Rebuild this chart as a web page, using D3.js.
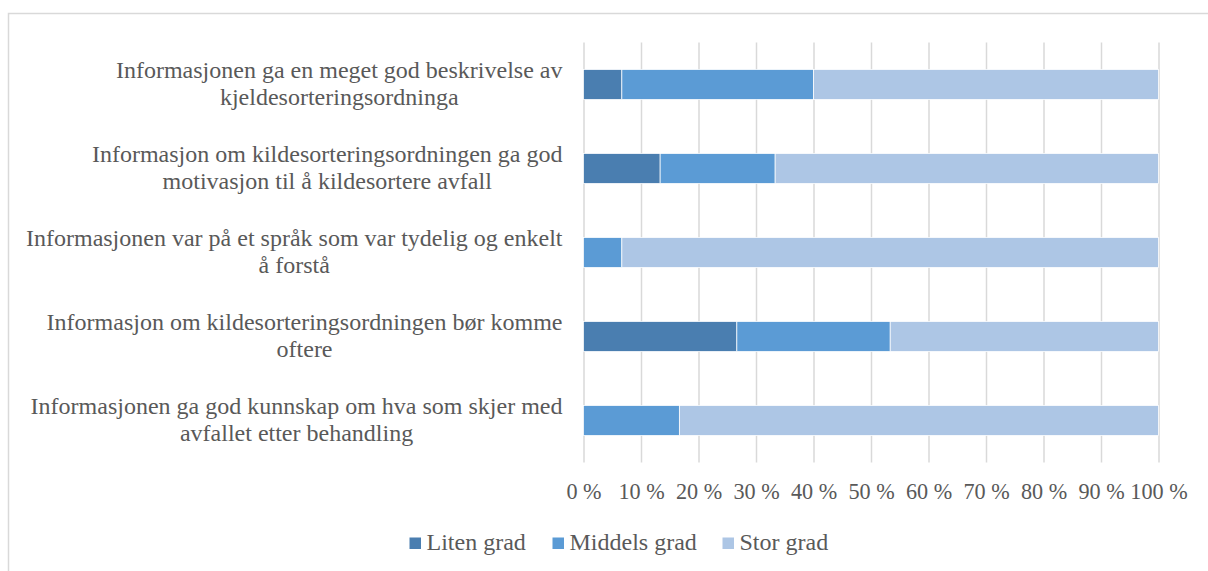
<!DOCTYPE html>
<html>
<head>
<meta charset="utf-8">
<script src="https://cdn.jsdelivr.net/npm/d3@7"></script>
<style>
  html, body { margin: 0; padding: 0; background: #fff; }
  svg { display: block; }
  svg text { font-family: 'Liberation Serif', 'Times New Roman', serif; fill: #595959; }
</style>
</head>
<body>
<svg id="chart" width="1208" height="571"></svg>
<script>
// Survey statements (line breaks mark where each label wraps)
const categories = [
  "Informasjonen ga en meget god beskrivelse av\nkjeldesorteringsordninga",
  "Informasjon om kildesorteringsordningen ga god\nmotivasjon til å kildesortere avfall",
  "Informasjonen var på et språk som var tydelig og enkelt\nå forstå",
  "Informasjon om kildesorteringsordningen bør komme\noftere",
  "Informasjonen ga god kunnskap om hva som skjer med\navfallet etter behandling"
];
const seriesNames = ["Liten grad", "Middels grad", "Stor grad"];
const liten   = [6.67, 13.33, 0,     26.67, 0];
const middels = [33.33, 20,   6.67,  26.67, 16.67];
const stor    = [60,   66.67, 93.33, 46.67, 83.33];
const tickValues = [0, 10, 20, 30, 40, 50, 60, 70, 80, 90, 100];
const tickLabels = ["0 %", "10 %", "20 %", "30 %", "40 %", "50 %", "60 %", "70 %", "80 %", "90 %", "100 %"];
const colors = ["#4a7eb0", "#5b9bd5", "#adc6e5"];

const svg = d3.select("#chart");
const serif = "'Liberation Serif', 'Times New Roman', serif";
const labelSize = 24;
const tickSize = 22.2;

// Outer chart frame
svg.append("rect")
  .attr("x", 8.5).attr("y", 13.5)
  .attr("width", 1220).attr("height", 600)
  .attr("fill", "none").attr("stroke", "#d9d9d9").attr("stroke-width", 1.5);

const x = d3.scaleLinear().domain([0, 100]).range([583.5, 1158.5]);
const y = d3.scaleBand().domain(categories).range([42.5, 462.5]).padding(0);
const barH = y.bandwidth() * 0.357;

// Vertical gridlines
svg.append("g")
  .attr("transform", "translate(0,462.5)")
  .call(d3.axisBottom(x).tickValues(tickValues).tickSize(-420).tickFormat(""))
  .call(g => g.select(".domain").remove())
  .call(g => g.selectAll(".tick line").attr("stroke", "#d9d9d9").attr("stroke-width", 1.5));

// Stacked bars
const rows = categories.map((c, i) => ({ cat: c, "Liten grad": liten[i], "Middels grad": middels[i], "Stor grad": stor[i] }));
const stacked = d3.stack().keys(seriesNames)(rows);

svg.append("g").selectAll("g")
  .data(stacked)
  .join("g")
  .attr("fill", (d, i) => colors[i])
  .selectAll("rect")
  .data(d => d.filter(s => s[1] - s[0] > 0))
  .join("rect")
  .attr("x", d => x(d[0]))
  .attr("width", d => x(d[1]) - x(d[0]))
  .attr("y", d => y(d.data.cat) + (y.bandwidth() - barH) / 2)
  .attr("height", barH)
  .attr("stroke", "#ffffff")
  .attr("stroke-width", 0.75);

// Category labels: block right-aligned, lines centred within the block
const labelRight = 562.5;
const lineH = 27;
categories.forEach(c => {
  const lines = c.split("\n");
  const g = svg.append("g");
  const texts = lines.map((ln, j) => g.append("text")
    .style("font-family", serif)
    .style("font-size", labelSize + "px")
    .attr("text-anchor", "middle")
    .attr("y", y(c) + y.bandwidth() / 2 + (j - (lines.length - 1) / 2) * lineH + 6.8)
    .text(ln));
  const w = d3.max(texts, t => t.node().getComputedTextLength());
  texts.forEach(t => t.attr("x", labelRight - w / 2));
});

// Percentage axis labels
svg.append("g")
  .attr("transform", "translate(0,462.5)")
  .call(d3.axisBottom(x).tickValues(tickValues).tickSize(0).tickPadding(0)
    .tickFormat((d, i) => tickLabels[i]))
  .attr("font-family", null)
  .attr("font-size", null)
  .call(g => g.select(".domain").remove())
  .call(g => g.selectAll(".tick text")
    .style("font-family", serif)
    .style("font-size", tickSize + "px")
    .attr("fill", "#595959")
    .attr("dy", null)
    .attr("y", 36.8));

// Legend
const legendX = [409.5, 552.5, 722.5];
const legend = svg.append("g");
seriesNames.forEach((name, i) => {
  legend.append("rect")
    .attr("x", legendX[i]).attr("y", 537.5)
    .attr("width", 11.5).attr("height", 11.5)
    .attr("fill", colors[i]);
  legend.append("text")
    .style("font-family", serif)
    .style("font-size", labelSize + "px")
    .attr("x", legendX[i] + 17).attr("y", 549.5)
    .text(name);
});
</script>
</body>
</html>
